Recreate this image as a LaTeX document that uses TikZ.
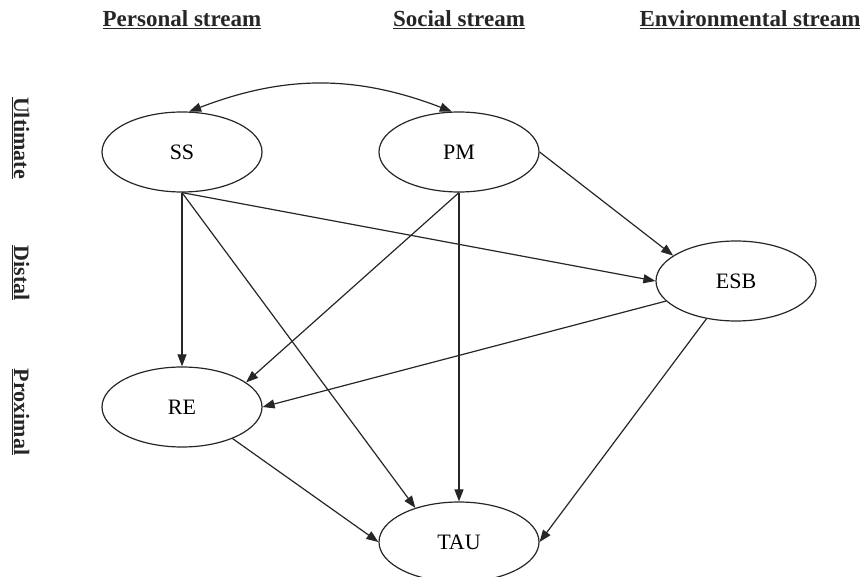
\documentclass[tikz,border=0pt]{standalone}
\usepackage{fontspec}
\setmainfont{Liberation Serif}
\usetikzlibrary{shapes.geometric,arrows.meta}
\begin{document}
\begin{tikzpicture}[x=1pt,y=1pt,
  var/.style={ellipse,draw=black!85,line width=1.2pt,minimum width=160pt,minimum height=80pt,inner sep=0pt,font=\fontsize{22}{26}\selectfont},
  hdr/.style={font=\fontsize{23}{27}\selectfont\bfseries,anchor=base,inner sep=0pt,text=black!85},
  lvl/.style={font=\fontsize{22}{26}\selectfont\bfseries,anchor=base,rotate=-90,inner sep=0pt,text=black!85},
  arr/.style={draw=black!85,line width=1.2pt,-{Triangle[length=12pt,width=9pt]}}]
\useasboundingbox (0,0) rectangle (863,-577);
\clip (0,0) rectangle (863,-577);
% headers
\node[hdr] (hp) at (182,-27) {\underline{Personal stream}};
\node[hdr] (hs) at (459,-27) {\underline{Social stream}};
\node[hdr] (he) at (750,-27) {\underline{Environmental stream}};
% level labels
\node[lvl] (lu) at (14,-138) {\underline{Ultimate}};
\node[lvl] (ld) at (14,-273) {\underline{Distal}};
\node[lvl] (lp) at (14,-412) {\underline{Proximal}};
% variables
\node[var] (SS) at (182,-152) {SS};
\node[var] (PM) at (459,-152) {PM};
\node[var] (ESB) at (736,-281) {ESB};
\node[var] (RE) at (182,-407) {RE};
\node[var] (TAU) at (459,-542) {TAU};
% connectors
\draw[arr,{Triangle[length=12pt,width=9pt]}-{Triangle[length=12pt,width=9pt]}] (SS.80) to[bend left=21] (PM.100);
\draw[arr] (SS.south) -- (RE.north);
\draw[arr] (SS.south) -- (TAU.142);
\draw[arr] (SS.south) -- (ESB.west);
\draw[arr] (PM.south) -- (RE.21);
\draw[arr] (PM.south) -- (TAU.north);
\draw[arr] (PM.east) -- (ESB.158);
\draw[arr] (ESB.196) -- (RE.east);
\draw[arr] (ESB.232) -- (TAU.east);
\draw[arr] (RE.328) -- (TAU.west);
\end{tikzpicture}
\end{document}
